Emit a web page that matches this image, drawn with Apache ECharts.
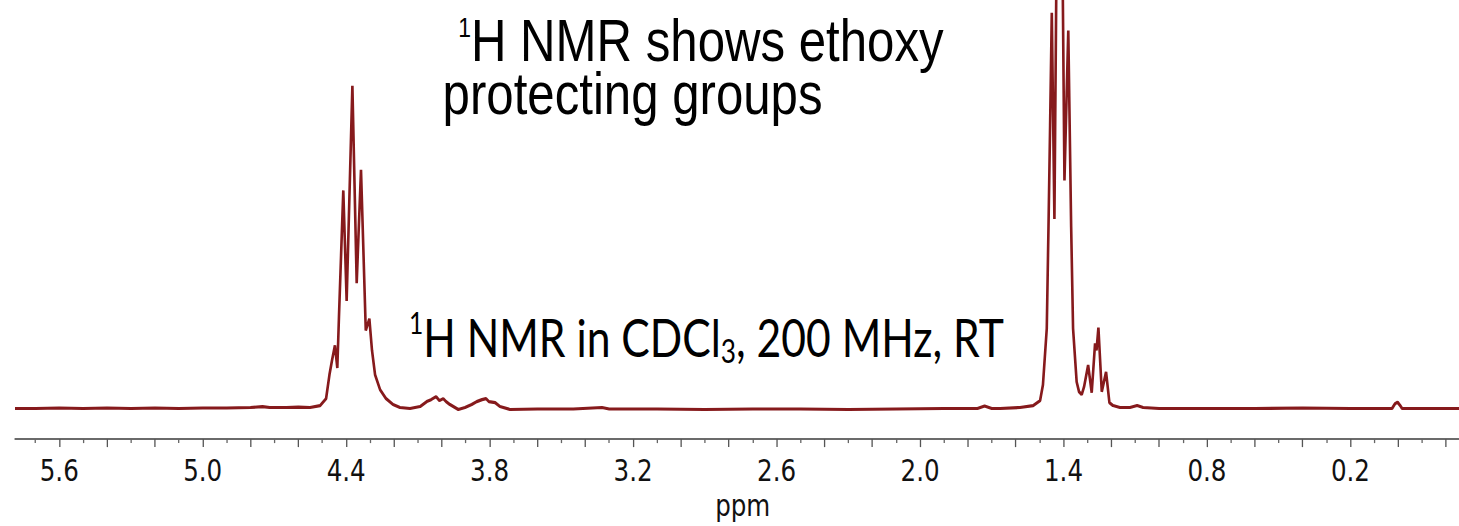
<!DOCTYPE html>
<html>
<head>
<meta charset="utf-8">
<script src="https://cdn.jsdelivr.net/npm/echarts@6.0.0/dist/echarts.min.js"></script>
<style>
html, body { margin: 0; padding: 0; overflow: hidden; background: #ffffff; width: 1459px; height: 526px; }
#chart { width: 1780px; height: 526px; transform: scaleX(0.81966); transform-origin: 0 0; }
</style>
</head>
<body>
<div id="chart"></div>
<script>
// ---- data: [chemical shift (ppm), intensity] ----
const spectrum = [
  [5.785, 1], [5.70, 1], [5.60, 1.5], [5.50, 1], [5.40, 1.5], [5.30, 1], [5.20, 1.5],
  [5.10, 1], [5.00, 1.5], [4.90, 1.5], [4.80, 2], [4.75, 3], [4.72, 2], [4.65, 2],
  [4.60, 2.5], [4.551, 2], [4.509, 4], [4.484, 11], [4.470, 35], [4.459, 50],
  [4.447, 65], [4.437, 42], [4.430, 95], [4.412, 222], [4.398, 110], [4.374, 328],
  [4.356, 128], [4.338, 243], [4.318, 80], [4.303, 92], [4.292, 60], [4.279, 35],
  [4.258, 20], [4.233, 11], [4.204, 5], [4.175, 2], [4.133, 1], [4.091, 3],
  [4.063, 8], [4.045, 10], [4.024, 13], [4.010, 9], [3.994, 11], [3.982, 8],
  [3.966, 5], [3.931, 0], [3.903, 2], [3.875, 5], [3.854, 8], [3.832, 10],
  [3.815, 11], [3.803, 8], [3.777, 7], [3.757, 3], [3.715, 0], [3.60, 0.5],
  [3.45, 0.5], [3.33, 2], [3.30, 0.5], [3.10, 0.5], [2.90, 0], [2.70, 0.5],
  [2.50, 0.5], [2.30, 0], [2.10, 0.5], [1.90, 1], [1.76, 1], [1.73, 3.5], [1.70, 1],
  [1.665, 1], [1.582, 2], [1.527, 4], [1.498, 9], [1.486, 25], [1.470, 82],
  [1.463, 182], [1.456, 288], [1.449, 402], [1.438, 193], [1.427, 520], [1.417, 440],
  [1.406, 505], [1.396, 232], [1.380, 384], [1.368, 185], [1.360, 82], [1.345, 28],
  [1.335, 18], [1.324, 15], [1.314, 23], [1.297, 45], [1.282, 17], [1.268, 67],
  [1.262, 60], [1.254, 83], [1.240, 18], [1.222, 38], [1.208, 7], [1.193, 4],
  [1.164, 2], [1.122, 2], [1.092, 4], [1.067, 2], [1.00, 1], [0.80, 1], [0.60, 1],
  [0.40, 1.5], [0.20, 1], [0.076, 1], [0.026, 1], [0.013, 6], [0.003, 7.5],
  [-0.008, 4], [-0.016, 1], [-0.10, 1], [-0.254, 1]
];

// ---- axis ticks / labels (ppm) ----
const majorTicks = [-0.2, 0.0, 0.2, 0.4, 0.6, 0.8, 1.0, 1.2, 1.4, 1.6, 1.8, 2.0, 2.2, 2.4,
  2.6, 2.8, 3.0, 3.2, 3.4, 3.6, 3.8, 4.0, 4.2, 4.4, 4.6, 4.8, 5.0, 5.2, 5.4, 5.6];
const minorTicks = [-0.1, 0.1, 0.3, 0.5, 0.7, 0.9, 1.1, 1.3, 1.5, 1.7, 1.9, 2.1, 2.3, 2.5,
  2.7, 2.9, 3.1, 3.3, 3.5, 3.7, 3.9, 4.1, 4.3, 4.5, 4.7, 4.9, 5.1, 5.3, 5.5, 5.7];
const labelTicks = [0.2, 0.8, 1.4, 2.0, 2.6, 3.2, 3.8, 4.4, 5.0, 5.6];
const ppmMin = -0.254;
const ppmMax = 5.785;

const titleText = '{sup|1}{main|H NMR shows ethoxy}\n{main|protecting groups}';
const subtitle = '{sup|1}{main|H NMR in CDCl}{sub|3}{main|, 200 MHz, RT}';
const axisName = 'ppm';

const lineColor = '#861a1c';
const chart = echarts.init(document.getElementById('chart'), null, { renderer: 'svg' });

const axisFont = "'DejaVu Sans', Verdana, sans-serif";
const arial = "'Liberation Sans', Arial, sans-serif";
const calib = "Lato, 'Open Sans', sans-serif";

chart.setOption({
  animation: false,
  backgroundColor: '#ffffff',
  grid: { left: 18.3, right: 0, top: 0, bottom: 81, containLabel: false },
  xAxis: [
    {
      type: 'value', inverse: true, min: ppmMin, max: ppmMax, position: 'bottom',
      axisLine: { show: true, onZero: false, lineStyle: { color: '#3a3a3a', width: 1.5 } },
      axisTick: { show: true, customValues: majorTicks, length: 8, lineStyle: { color: '#555', width: 1.6 } },
      axisLabel: {
        show: true, customValues: labelTicks, margin: 17,
        formatter: function (v) { return Number(v).toFixed(1); },
        fontSize: 30, fontFamily: axisFont, color: '#111'
      },
      splitLine: { show: false },
      name: axisName, nameLocation: 'middle', nameGap: 50,
      nameTextStyle: { fontSize: 30, fontFamily: axisFont, color: '#111', padding: [0, 0, 0, 14] }
    },
    {
      type: 'value', inverse: true, min: ppmMin, max: ppmMax, position: 'bottom',
      axisLine: { show: false, onZero: false },
      axisTick: { show: true, customValues: minorTicks, length: 4, lineStyle: { color: '#666', width: 1.6 } },
      axisLabel: { show: false },
      splitLine: { show: false }
    }
  ],
  yAxis: { type: 'value', min: -30, max: 415, show: false, splitLine: { show: false } },
  series: [{
    type: 'line', xAxisIndex: 0, data: spectrum, showSymbol: false, smooth: false,
    clip: true, lineStyle: { color: lineColor, width: 3.2 }
  }],
  graphic: [
    {
      type: 'text', left: 540, top: 10, silent: true,
      style: {
        text: titleText, fill: '#000',
        rich: {
          main: { fontSize: 60, fontFamily: arial, lineHeight: 53, fill: '#000' },
          sup: { fontSize: 28, fontFamily: arial, lineHeight: 16, verticalAlign: 'top', fill: '#000', padding: [0, 0, 0, 19] }
        }
      }
    },
    {
      type: 'text', left: 499, top: 308, silent: true,
      style: {
        text: subtitle, fill: '#000',
        rich: {
          main: { fontSize: 52, fontFamily: calib, lineHeight: 58, fill: '#000' },
          sup: { fontSize: 30, fontFamily: calib, lineHeight: 22, verticalAlign: 'top', fill: '#000' },
          sub: { fontSize: 32, fontFamily: calib, lineHeight: 26, verticalAlign: 'bottom', fill: '#000' }
        }
      }
    }
  ]
});
</script>
</body>
</html>
